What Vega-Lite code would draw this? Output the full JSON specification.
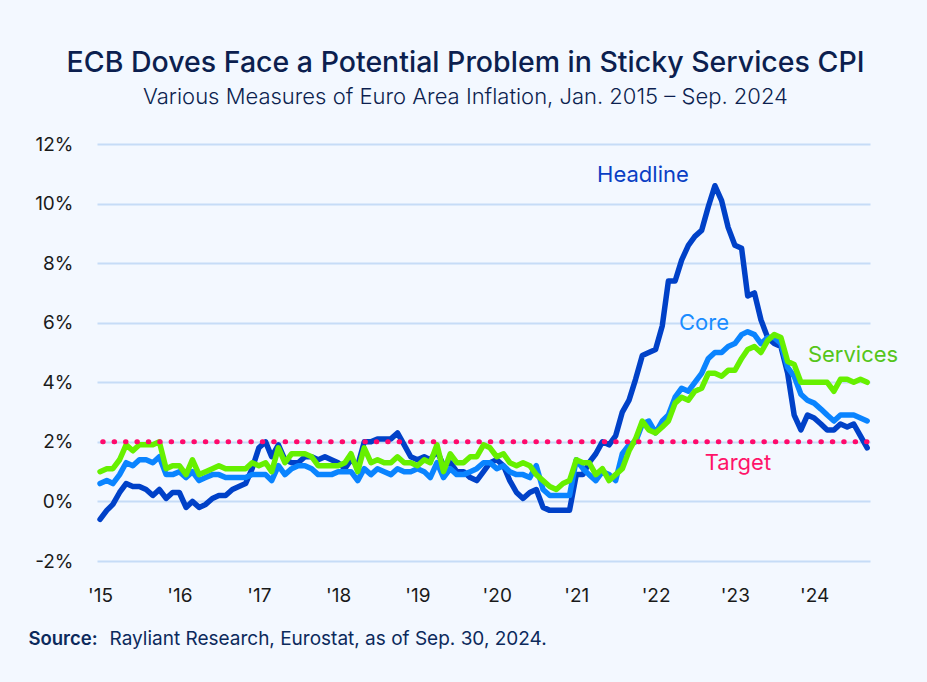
{
  "$schema": "https://vega.github.io/schema/vega-lite/v6.json",
  "width": 773,
  "height": 417,
  "autosize": "none",
  "padding": {"left": 97, "top": 144, "right": 57, "bottom": 121},
  "background": "#f3f8ff",
  "config": {"view": {"stroke": null}, "font": "Inter"},
  "title": {
    "text": "ECB Doves Face a Potential Problem in Sticky Services CPI",
    "subtitle": "Various Measures of Euro Area Inflation, Jan. 2015 – Sep. 2024",
    "anchor": "middle",
    "dx": -18,
    "font": "Inter",
    "fontSize": 28.5,
    "fontWeight": 500,
    "color": "#0c1f4f",
    "subtitleFont": "Inter",
    "subtitleFontSize": 22,
    "subtitleFontWeight": 300,
    "subtitleColor": "#0c1f4f",
    "subtitlePadding": 10,
    "offset": 27
  },
  "datasets": {
    "cpi": [
      {"date": "2015-01-01", "Headline": -0.6, "Core": 0.6, "Services": 1.0},
      {"date": "2015-02-01", "Headline": -0.3, "Core": 0.7, "Services": 1.1},
      {"date": "2015-03-01", "Headline": -0.1, "Core": 0.6, "Services": 1.1},
      {"date": "2015-04-01", "Headline": 0.3, "Core": 0.9, "Services": 1.4},
      {"date": "2015-05-01", "Headline": 0.6, "Core": 1.3, "Services": 1.9},
      {"date": "2015-06-01", "Headline": 0.5, "Core": 1.2, "Services": 1.7},
      {"date": "2015-07-01", "Headline": 0.5, "Core": 1.4, "Services": 1.9},
      {"date": "2015-08-01", "Headline": 0.4, "Core": 1.4, "Services": 1.9},
      {"date": "2015-09-01", "Headline": 0.2, "Core": 1.3, "Services": 1.9},
      {"date": "2015-10-01", "Headline": 0.4, "Core": 1.5, "Services": 2.0},
      {"date": "2015-11-01", "Headline": 0.1, "Core": 0.9, "Services": 1.1},
      {"date": "2015-12-01", "Headline": 0.3, "Core": 0.9, "Services": 1.2},
      {"date": "2016-01-01", "Headline": 0.3, "Core": 1.0, "Services": 1.2},
      {"date": "2016-02-01", "Headline": -0.2, "Core": 0.8, "Services": 0.9},
      {"date": "2016-03-01", "Headline": 0.0, "Core": 1.0, "Services": 1.4},
      {"date": "2016-04-01", "Headline": -0.2, "Core": 0.7, "Services": 0.9},
      {"date": "2016-05-01", "Headline": -0.1, "Core": 0.8, "Services": 1.0},
      {"date": "2016-06-01", "Headline": 0.1, "Core": 0.9, "Services": 1.1},
      {"date": "2016-07-01", "Headline": 0.2, "Core": 0.9, "Services": 1.2},
      {"date": "2016-08-01", "Headline": 0.2, "Core": 0.8, "Services": 1.1},
      {"date": "2016-09-01", "Headline": 0.4, "Core": 0.8, "Services": 1.1},
      {"date": "2016-10-01", "Headline": 0.5, "Core": 0.8, "Services": 1.1},
      {"date": "2016-11-01", "Headline": 0.6, "Core": 0.8, "Services": 1.1},
      {"date": "2016-12-01", "Headline": 1.1, "Core": 0.9, "Services": 1.3},
      {"date": "2017-01-01", "Headline": 1.8, "Core": 0.9, "Services": 1.2},
      {"date": "2017-02-01", "Headline": 2.0, "Core": 0.9, "Services": 1.3},
      {"date": "2017-03-01", "Headline": 1.5, "Core": 0.7, "Services": 1.0},
      {"date": "2017-04-01", "Headline": 1.9, "Core": 1.2, "Services": 1.8},
      {"date": "2017-05-01", "Headline": 1.4, "Core": 0.9, "Services": 1.3},
      {"date": "2017-06-01", "Headline": 1.3, "Core": 1.1, "Services": 1.6},
      {"date": "2017-07-01", "Headline": 1.3, "Core": 1.2, "Services": 1.6},
      {"date": "2017-08-01", "Headline": 1.5, "Core": 1.2, "Services": 1.6},
      {"date": "2017-09-01", "Headline": 1.5, "Core": 1.1, "Services": 1.5},
      {"date": "2017-10-01", "Headline": 1.4, "Core": 0.9, "Services": 1.2},
      {"date": "2017-11-01", "Headline": 1.5, "Core": 0.9, "Services": 1.2},
      {"date": "2017-12-01", "Headline": 1.4, "Core": 0.9, "Services": 1.2},
      {"date": "2018-01-01", "Headline": 1.3, "Core": 1.0, "Services": 1.2},
      {"date": "2018-02-01", "Headline": 1.1, "Core": 1.0, "Services": 1.3},
      {"date": "2018-03-01", "Headline": 1.4, "Core": 1.0, "Services": 1.6},
      {"date": "2018-04-01", "Headline": 1.2, "Core": 0.7, "Services": 1.0},
      {"date": "2018-05-01", "Headline": 2.0, "Core": 1.1, "Services": 1.8},
      {"date": "2018-06-01", "Headline": 2.0, "Core": 0.9, "Services": 1.3},
      {"date": "2018-07-01", "Headline": 2.1, "Core": 1.1, "Services": 1.4},
      {"date": "2018-08-01", "Headline": 2.1, "Core": 1.0, "Services": 1.3},
      {"date": "2018-09-01", "Headline": 2.1, "Core": 0.9, "Services": 1.3},
      {"date": "2018-10-01", "Headline": 2.3, "Core": 1.1, "Services": 1.5},
      {"date": "2018-11-01", "Headline": 1.9, "Core": 1.0, "Services": 1.3},
      {"date": "2018-12-01", "Headline": 1.5, "Core": 1.0, "Services": 1.3},
      {"date": "2019-01-01", "Headline": 1.4, "Core": 1.1, "Services": 1.2},
      {"date": "2019-02-01", "Headline": 1.5, "Core": 1.0, "Services": 1.4},
      {"date": "2019-03-01", "Headline": 1.4, "Core": 0.8, "Services": 1.3},
      {"date": "2019-04-01", "Headline": 1.7, "Core": 1.3, "Services": 1.9},
      {"date": "2019-05-01", "Headline": 1.2, "Core": 0.8, "Services": 1.0},
      {"date": "2019-06-01", "Headline": 1.3, "Core": 1.1, "Services": 1.6},
      {"date": "2019-07-01", "Headline": 1.0, "Core": 0.9, "Services": 1.3},
      {"date": "2019-08-01", "Headline": 1.0, "Core": 0.9, "Services": 1.3},
      {"date": "2019-09-01", "Headline": 0.8, "Core": 1.0, "Services": 1.5},
      {"date": "2019-10-01", "Headline": 0.7, "Core": 1.1, "Services": 1.5},
      {"date": "2019-11-01", "Headline": 1.0, "Core": 1.3, "Services": 1.9},
      {"date": "2019-12-01", "Headline": 1.3, "Core": 1.3, "Services": 1.8},
      {"date": "2020-01-01", "Headline": 1.4, "Core": 1.1, "Services": 1.5},
      {"date": "2020-02-01", "Headline": 1.2, "Core": 1.2, "Services": 1.6},
      {"date": "2020-03-01", "Headline": 0.7, "Core": 1.0, "Services": 1.3},
      {"date": "2020-04-01", "Headline": 0.3, "Core": 0.9, "Services": 1.2},
      {"date": "2020-05-01", "Headline": 0.1, "Core": 0.9, "Services": 1.3},
      {"date": "2020-06-01", "Headline": 0.3, "Core": 0.8, "Services": 1.2},
      {"date": "2020-07-01", "Headline": 0.4, "Core": 1.2, "Services": 0.9},
      {"date": "2020-08-01", "Headline": -0.2, "Core": 0.4, "Services": 0.7},
      {"date": "2020-09-01", "Headline": -0.3, "Core": 0.2, "Services": 0.5},
      {"date": "2020-10-01", "Headline": -0.3, "Core": 0.2, "Services": 0.4},
      {"date": "2020-11-01", "Headline": -0.3, "Core": 0.2, "Services": 0.6},
      {"date": "2020-12-01", "Headline": -0.3, "Core": 0.2, "Services": 0.7},
      {"date": "2021-01-01", "Headline": 0.9, "Core": 1.4, "Services": 1.4},
      {"date": "2021-02-01", "Headline": 0.9, "Core": 1.1, "Services": 1.3},
      {"date": "2021-03-01", "Headline": 1.3, "Core": 0.9, "Services": 1.3},
      {"date": "2021-04-01", "Headline": 1.6, "Core": 0.7, "Services": 0.9},
      {"date": "2021-05-01", "Headline": 2.0, "Core": 1.0, "Services": 1.1},
      {"date": "2021-06-01", "Headline": 1.9, "Core": 0.9, "Services": 0.7},
      {"date": "2021-07-01", "Headline": 2.2, "Core": 0.7, "Services": 0.9},
      {"date": "2021-08-01", "Headline": 3.0, "Core": 1.6, "Services": 1.1},
      {"date": "2021-09-01", "Headline": 3.4, "Core": 1.9, "Services": 1.7},
      {"date": "2021-10-01", "Headline": 4.1, "Core": 2.0, "Services": 2.1},
      {"date": "2021-11-01", "Headline": 4.9, "Core": 2.6, "Services": 2.7},
      {"date": "2021-12-01", "Headline": 5.0, "Core": 2.7, "Services": 2.4},
      {"date": "2022-01-01", "Headline": 5.1, "Core": 2.3, "Services": 2.3},
      {"date": "2022-02-01", "Headline": 5.9, "Core": 2.7, "Services": 2.5},
      {"date": "2022-03-01", "Headline": 7.4, "Core": 2.9, "Services": 2.7},
      {"date": "2022-04-01", "Headline": 7.4, "Core": 3.5, "Services": 3.3},
      {"date": "2022-05-01", "Headline": 8.1, "Core": 3.8, "Services": 3.5},
      {"date": "2022-06-01", "Headline": 8.6, "Core": 3.7, "Services": 3.4},
      {"date": "2022-07-01", "Headline": 8.9, "Core": 4.0, "Services": 3.7},
      {"date": "2022-08-01", "Headline": 9.1, "Core": 4.3, "Services": 3.8},
      {"date": "2022-09-01", "Headline": 9.9, "Core": 4.8, "Services": 4.3},
      {"date": "2022-10-01", "Headline": 10.6, "Core": 5.0, "Services": 4.3},
      {"date": "2022-11-01", "Headline": 10.1, "Core": 5.0, "Services": 4.2},
      {"date": "2022-12-01", "Headline": 9.2, "Core": 5.2, "Services": 4.4},
      {"date": "2023-01-01", "Headline": 8.6, "Core": 5.3, "Services": 4.4},
      {"date": "2023-02-01", "Headline": 8.5, "Core": 5.6, "Services": 4.8},
      {"date": "2023-03-01", "Headline": 6.9, "Core": 5.7, "Services": 5.1},
      {"date": "2023-04-01", "Headline": 7.0, "Core": 5.6, "Services": 5.2},
      {"date": "2023-05-01", "Headline": 6.1, "Core": 5.3, "Services": 5.0},
      {"date": "2023-06-01", "Headline": 5.5, "Core": 5.5, "Services": 5.4},
      {"date": "2023-07-01", "Headline": 5.3, "Core": 5.5, "Services": 5.6},
      {"date": "2023-08-01", "Headline": 5.2, "Core": 5.3, "Services": 5.5},
      {"date": "2023-09-01", "Headline": 4.3, "Core": 4.5, "Services": 4.7},
      {"date": "2023-10-01", "Headline": 2.9, "Core": 4.2, "Services": 4.6},
      {"date": "2023-11-01", "Headline": 2.4, "Core": 3.6, "Services": 4.0},
      {"date": "2023-12-01", "Headline": 2.9, "Core": 3.4, "Services": 4.0},
      {"date": "2024-01-01", "Headline": 2.8, "Core": 3.3, "Services": 4.0},
      {"date": "2024-02-01", "Headline": 2.6, "Core": 3.1, "Services": 4.0},
      {"date": "2024-03-01", "Headline": 2.4, "Core": 2.9, "Services": 4.0},
      {"date": "2024-04-01", "Headline": 2.4, "Core": 2.7, "Services": 3.7},
      {"date": "2024-05-01", "Headline": 2.6, "Core": 2.9, "Services": 4.1},
      {"date": "2024-06-01", "Headline": 2.5, "Core": 2.9, "Services": 4.1},
      {"date": "2024-07-01", "Headline": 2.6, "Core": 2.9, "Services": 4.0},
      {"date": "2024-08-01", "Headline": 2.2, "Core": 2.8, "Services": 4.1},
      {"date": "2024-09-01", "Headline": 1.8, "Core": 2.7, "Services": 4.0}
    ],
    "labels": [
      {"label": "Headline", "date": "2021-11-04", "value": 10.95},
      {"label": "Core", "date": "2022-08-12", "value": 5.98},
      {"label": "Services", "date": "2024-06-28", "value": 4.9},
      {"label": "Target", "date": "2023-01-15", "value": 1.28}
    ],
    "target": [
      {"target": 2}
    ]
  },
  "layer": [
    {
      "mark": {"type": "rule", "color": "#0d2253", "strokeWidth": 1.5},
      "encoding": {"y": {"datum": 0, "type": "quantitative"}}
    },
    {
      "data": {"name": "cpi"},
      "mark": {"type": "line", "color": "#0041c8", "strokeWidth": 5.5, "strokeCap": "round", "strokeJoin": "round"},
      "encoding": {
        "x": {
          "field": "date",
          "type": "temporal",
          "scale": {
            "type": "utc",
            "domain": [
              {"year": 2014, "month": 12, "date": 18, "utc": true},
              {"year": 2024, "month": 9, "date": 14, "utc": true}
            ]
          },
          "axis": {
            "values": [
              {"year": 2015, "month": 1, "date": 1, "utc": true},
              {"year": 2016, "month": 1, "date": 1, "utc": true},
              {"year": 2017, "month": 1, "date": 1, "utc": true},
              {"year": 2018, "month": 1, "date": 1, "utc": true},
              {"year": 2019, "month": 1, "date": 1, "utc": true},
              {"year": 2020, "month": 1, "date": 1, "utc": true},
              {"year": 2021, "month": 1, "date": 1, "utc": true},
              {"year": 2022, "month": 1, "date": 1, "utc": true},
              {"year": 2023, "month": 1, "date": 1, "utc": true},
              {"year": 2024, "month": 1, "date": 1, "utc": true}
            ],
            "labelExpr": "\"'\" + utcFormat(datum.value, '%y')",
            "grid": false,
            "domain": false,
            "ticks": false,
            "labelFont": "Inter",
            "labelFontSize": 19,
            "labelColor": "#1a1a1a",
            "labelPadding": 25,
            "title": "Rayliant Research, Eurostat, as of Sep. 30, 2024.",
            "titleX": 12,
            "titleY": 77,
            "titleAlign": "left",
            "titleBaseline": "middle",
            "titleFont": "Inter",
            "titleFontSize": 19,
            "titleFontWeight": "normal",
            "titleColor": "#0c2a5c"
          }
        },
        "y": {
          "field": "Headline",
          "type": "quantitative",
          "scale": {"domain": [-2, 12], "nice": false, "zero": false},
          "axis": {
            "values": [-2, 0, 2, 4, 6, 8, 10, 12],
            "labelExpr": "datum.value + '%'",
            "grid": true,
            "gridColor": "#c6dcf7",
            "gridWidth": 2,
            "domain": false,
            "ticks": false,
            "labelFont": "Inter",
            "labelFontSize": 19,
            "labelColor": "#1a1a1a",
            "labelPadding": 24,
            "title": "Source:",
            "titleAngle": 0,
            "titleX": -69,
            "titleY": 494,
            "titleAlign": "left",
            "titleBaseline": "middle",
            "titleFont": "Inter",
            "titleFontSize": 18.5,
            "titleFontWeight": 600,
            "titleColor": "#0c2a5c"
          }
        }
      }
    },
    {
      "data": {"name": "cpi"},
      "mark": {"type": "line", "color": "#0a84ff", "strokeWidth": 5.5, "strokeCap": "round", "strokeJoin": "round"},
      "encoding": {
        "x": {"field": "date", "type": "temporal"},
        "y": {"field": "Core", "type": "quantitative"}
      }
    },
    {
      "data": {"name": "cpi"},
      "mark": {"type": "line", "color": "#66f000", "strokeWidth": 5.5, "strokeCap": "round", "strokeJoin": "round"},
      "encoding": {
        "x": {"field": "date", "type": "temporal"},
        "y": {"field": "Services", "type": "quantitative"}
      }
    },
    {
      "data": {"name": "target"},
      "mark": {"type": "rule", "stroke": "#ff0a6c", "strokeWidth": 5, "strokeCap": "round", "strokeDash": [0.5, 10.9], "strokeDashOffset": -3, "opacity": 1},
      "encoding": {
        "y": {"field": "target", "type": "quantitative"}
      }
    },
    {
      "data": {"name": "labels"},
      "mark": {"type": "text", "font": "Inter", "fontSize": 22, "baseline": "middle", "align": "center"},
      "encoding": {
        "x": {"field": "date", "type": "temporal"},
        "y": {"field": "value", "type": "quantitative"},
        "text": {"field": "label", "type": "nominal"},
        "color": {
          "field": "label",
          "type": "nominal",
          "scale": {"domain": ["Headline", "Core", "Services", "Target"], "range": ["#0a3fc4", "#1a8cff", "#55c51a", "#ff1469"]},
          "legend": null
        }
      }
    }
  ]
}
